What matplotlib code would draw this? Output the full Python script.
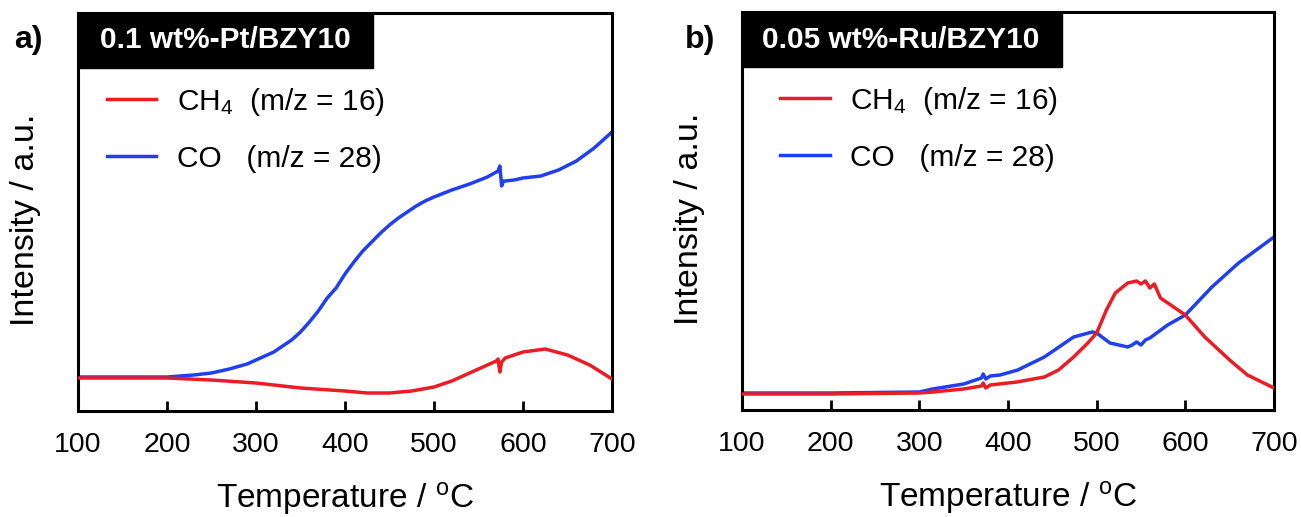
import matplotlib
matplotlib.use("Agg")
import matplotlib.pyplot as plt
from matplotlib.patches import Rectangle

plt.rcParams['font.family'] = ['Liberation Sans', 'DejaVu Sans']
plt.rcParams['mathtext.fontset'] = 'custom'
plt.rcParams['mathtext.rm'] = 'Liberation Sans'
plt.rcParams['mathtext.it'] = 'Liberation Sans'

# ---------------- data (intensity in arbitrary units) ----------------
pt_co_T = [100, 150, 200, 230, 250, 270, 290, 300, 320, 340, 350, 360, 370, 380,
           390, 400, 410, 420, 430, 440, 450, 460, 470, 480, 490, 500, 520, 540,
           560, 572, 574, 576, 578, 580, 590, 600, 620, 640, 660, 680, 700]
pt_co_I = [34, 34, 34, 36, 38, 42, 47, 51, 59, 71, 79, 89, 100, 113,
           123, 137, 149, 160, 169, 178, 186, 193, 199, 205, 210, 214, 221, 227,
           234, 240, 245, 225, 230, 230, 231, 233, 235, 241, 250, 263, 279]

pt_ch4_T = [100, 150, 200, 250, 300, 350, 400, 425, 450, 475, 500, 520, 540, 560,
            570, 572, 574, 576, 580, 600, 625, 650, 675, 700]
pt_ch4_I = [33, 33, 33, 31, 28, 23, 20, 18, 18, 20, 24, 30, 38, 46,
            50, 52, 39, 49, 53, 59, 62, 56, 46, 32]

ru_ch4_T = [100, 200, 300, 315, 350, 370, 372, 375, 380, 400, 410, 441, 457, 474,
            490, 500, 511, 521, 535, 545, 550, 555, 560, 565, 572, 600, 622, 650,
            670, 700]
ru_ch4_I = [16, 16, 17, 18, 21, 24, 27, 22, 25, 27, 28, 33, 40, 53,
            67, 77, 100, 117, 127, 129, 126, 129, 122, 126, 112, 95, 73, 50,
            35, 22]

ru_co_T = [100, 200, 300, 315, 350, 370, 372, 375, 380, 391, 411, 441, 474, 495,
           500, 515, 535, 540, 545, 550, 555, 560, 580, 600, 630, 660, 700]
ru_co_I = [17, 17, 18, 21, 26, 32, 36, 31, 34, 35, 40, 53, 73, 78,
           77, 67, 63, 65, 68, 65, 70, 72, 85, 95, 123, 147, 173]

xticks = [100, 200, 300, 400, 500, 600, 700]
panel_tags = ["a)", "b)"]
panel_titles = ["0.1 wt%-Pt/BZY10", "0.05 wt%-Ru/BZY10"]
labels = [r"CH$_4$  (m/z = 16)", "CO   (m/z = 28)"]

RED = "#ec1c24"
BLUE = "#1f3ff0"

W, H = 1301, 517
fig = plt.figure(figsize=(W / 100, H / 100), dpi=100)

def px_axes(x0, y0, x1, y1):
    return fig.add_axes([x0 / W, 1 - y1 / H, (x1 - x0) / W, (y1 - y0) / H])

axL = px_axes(78, 13, 612, 411)
axR = px_axes(742, 12, 1274, 410)

series = [
    (axL, pt_ch4_T, pt_ch4_I, pt_co_T, pt_co_I, 295, 0.041, 0.054, 28),
    (axR, ru_ch4_T, ru_ch4_I, ru_co_T, ru_co_I, 320, 0.037, 0.072, 700),
]

for i, (ax, tr, ir, tb, ib, boxw, tx, lx, tagx) in enumerate(series):
    ax.plot(tr, ir, color=RED, lw=2.5, label=labels[0], zorder=3)
    ax.plot(tb, ib, color=BLUE, lw=2.5, label=labels[1], zorder=2)
    ax.set_xlim(100, 700)
    ax.set_ylim(0, 398)
    ax.set_xticks(xticks)
    ax.set_xticklabels([str(t) for t in xticks], fontsize=20.5)
    ax.set_yticks([])
    ax.tick_params(axis='x', direction='in', length=7.5, width=2, pad=15)
    for s in ax.spines.values():
        s.set_linewidth(2.2)
    ax.set_xlabel(r"Temperature / $^{\mathrm{o}}$C", fontsize=24)
    ax.xaxis.set_label_coords(0.5, -0.243)
    ax.xaxis.label.set_verticalalignment('baseline')
    ax.set_ylabel("Intensity / a.u.", fontsize=24.5)
    ax.yaxis.set_label_coords(-0.07, 0.48)
    # black title box
    bw = boxw / (ax.get_position().width * W)
    bh = 55 / 398
    ax.add_patch(Rectangle((0, 1 - bh), bw, bh, transform=ax.transAxes,
                           facecolor='black', edgecolor='black', clip_on=False, zorder=5))
    ax.text(tx, 1 - bh / 2, panel_titles[i], transform=ax.transAxes, color='white',
            fontsize=21.5, fontweight='bold', va='center', ha='left', zorder=6)
    fig.text(tagx / W, 1 - 40 / H, panel_tags[i], fontsize=23, fontweight='bold',
             ha='center', va='center')
    leg = ax.legend(loc='upper left', bbox_to_anchor=(lx, 0.817), frameon=False,
                    fontsize=21.5, handlelength=1.65, handletextpad=0.7,
                    labelspacing=0.9, borderpad=0, borderaxespad=0)

fig.savefig("out.png", dpi=100)
